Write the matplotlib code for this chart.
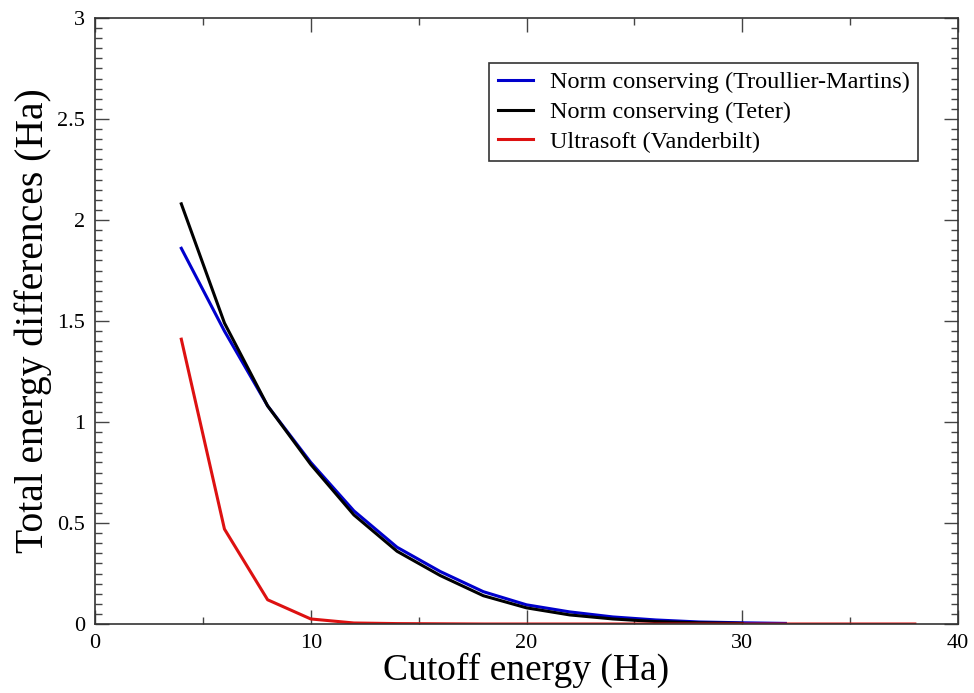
import matplotlib
matplotlib.use("Agg")
import matplotlib.pyplot as plt
from matplotlib.ticker import MultipleLocator

x_tm = [4, 6, 8, 10, 12, 14, 16, 18, 20, 22, 24, 26, 28, 30, 32]
y_tm = [1.86, 1.45, 1.08, 0.80, 0.56, 0.38, 0.26, 0.16, 0.095, 0.06, 0.035, 0.02, 0.01, 0.006, 0.003]

x_teter = [4, 6, 8, 10, 12, 14, 16, 18, 20, 22, 24, 26, 28, 30]
y_teter = [2.08, 1.49, 1.08, 0.79, 0.54, 0.36, 0.24, 0.14, 0.08, 0.045, 0.025, 0.012, 0.006, 0.003]

x_us = [4, 6, 8, 10, 12, 14, 16, 18, 20, 22, 24, 26, 28, 30, 32, 34, 36, 38]
y_us = [1.41, 0.47, 0.12, 0.025, 0.005, 0.002, 0.001, 0.0, 0.0, 0.0, 0.0, 0.0, 0.0, 0.0, 0.0, 0.0, 0.0, 0.0]

labels = ["Norm conserving (Troullier-Martins)", "Norm conserving (Teter)", "Ultrasoft (Vanderbilt)"]

fig = plt.figure(figsize=(9.74, 6.93), dpi=100)
ax = fig.add_axes([95/974, 1 - 624/693, (958-95)/974, (624-18)/693])

ax.plot(x_tm, y_tm, color="#0000cc", lw=2.2, label=labels[0])
ax.plot(x_teter, y_teter, color="black", lw=2.2, label=labels[1])
ax.plot(x_us, y_us, color="#dd1111", lw=2.2, label=labels[2])

ax.set_xlim(0, 40)
ax.set_ylim(0, 3)
ax.xaxis.set_major_locator(MultipleLocator(10))
ax.xaxis.set_minor_locator(MultipleLocator(5))
ax.yaxis.set_minor_locator(MultipleLocator(0.05))
ax.set_yticks([0, 0.5, 1, 1.5, 2, 2.5, 3])
ax.set_yticklabels(["0", "0.5", "1", "1.5", "2", "2.5", "3"])
ax.tick_params(which="both", direction="in", top=True, right=True, color="#444444")
ax.tick_params(which="major", length=10, width=1)
ax.tick_params(which="minor", length=5, width=1)
ax.tick_params(axis="x", which="major", pad=7)
ax.tick_params(axis="y", which="major", pad=7)
for lbl in ax.get_xticklabels() + ax.get_yticklabels():
    lbl.set_family("Liberation Serif")
    lbl.set_fontsize(16)
for sp in ax.spines.values():
    sp.set_color("#333333")
    sp.set_linewidth(1.2)

ax.set_xlabel("Cutoff energy (Ha)", family="Liberation Serif", fontsize=27, labelpad=0)
ax.set_ylabel("Total energy differences (Ha)", family="Liberation Serif", fontsize=28.5, labelpad=4)

leg = ax.legend(loc="upper right", bbox_to_anchor=(0.954, 0.926), prop={"family": "Liberation Serif", "size": 17.5},
                fancybox=False, edgecolor="#333333", framealpha=1, handlelength=1.45, borderpad=0.35,
                labelspacing=0.32, handletextpad=0.7, borderaxespad=0)
leg.get_frame().set_linewidth(1.2)

fig.savefig("out.png", dpi=100)
